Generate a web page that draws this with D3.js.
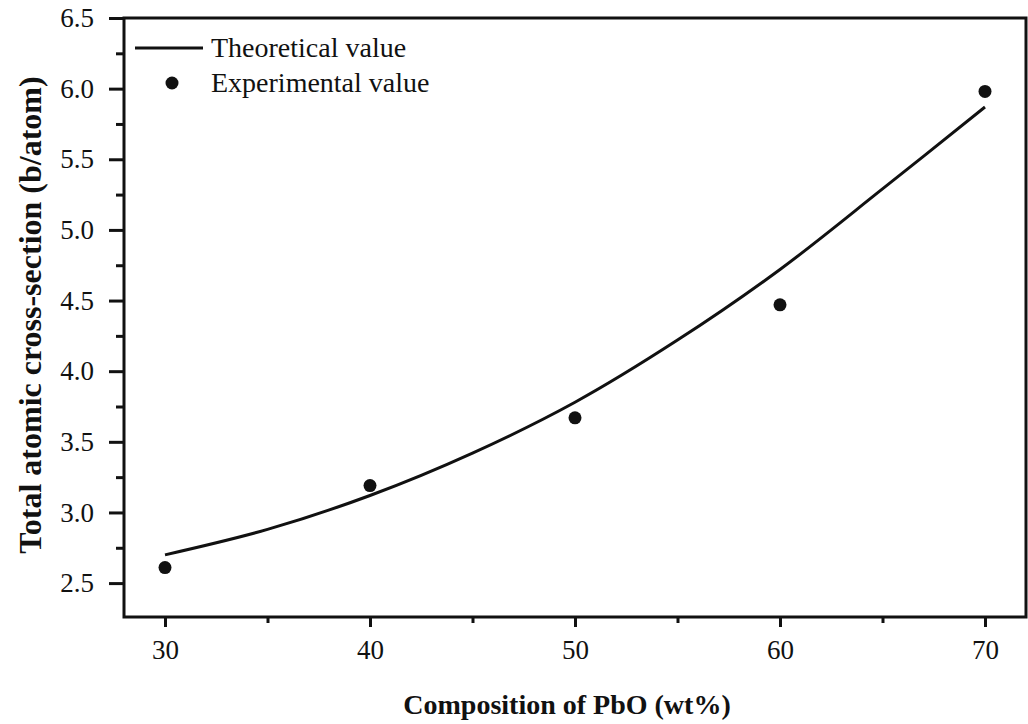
<!DOCTYPE html>
<html>
<head>
  <meta charset="utf-8">
  <script src="https://cdn.jsdelivr.net/npm/d3@7"></script>
  <style>
    body { margin: 0; background: #fff; }
    text { font-family: "Liberation Serif", "Times New Roman", serif; fill: #111; }
  </style>
</head>
<body>
<script>
// experimental points
var expX = [30, 40, 50, 60, 70];
var expY = [2.61, 3.19, 3.67, 4.47, 5.98];
// theoretical curve
var theoX = [30, 35, 40, 45, 50, 55, 60, 65, 70];
var theoY = [2.70, 2.88, 3.12, 3.42, 3.78, 4.22, 4.72, 5.29, 5.87];
var xTicks = [30, 40, 50, 60, 70];
var yTicks = [2.5, 3.0, 3.5, 4.0, 4.5, 5.0, 5.5, 6.0, 6.5];

var W = 1028, H = 724;
var pLeft = 124, pRight = 1026, pTop = 18, pBottom = 617;

var svg = d3.select("body").append("svg")
  .attr("width", W).attr("height", H);

var x = d3.scaleLinear().domain([28, 72]).range([pLeft, pRight]);
var y = d3.scaleLinear().domain([2.26, 6.5]).range([pBottom, pTop]);

// frame
svg.append("rect")
  .attr("x", pLeft).attr("y", pTop)
  .attr("width", pRight - pLeft).attr("height", pBottom - pTop)
  .attr("fill", "none").attr("stroke", "#111").attr("stroke-width", 3);

// x axis
var xAxis = d3.axisBottom(x).tickValues(xTicks).tickSize(10).tickPadding(13)
  .tickFormat(d3.format("d"));
var gx = svg.append("g").attr("transform", "translate(0," + pBottom + ")").call(xAxis);
gx.select(".domain").remove();
gx.selectAll(".tick line").attr("stroke", "#111").attr("stroke-width", 3);
gx.selectAll(".tick text").style("font-size", "27px").attr("fill", "#111");

var gxm = svg.append("g").attr("transform", "translate(0," + pBottom + ")")
  .call(d3.axisBottom(x).tickValues([35, 45, 55, 65]).tickSize(6).tickFormat(""));
gxm.select(".domain").remove();
gxm.selectAll(".tick line").attr("stroke", "#111").attr("stroke-width", 3);

// y axis
var yAxis = d3.axisLeft(y).tickValues(yTicks).tickSize(15).tickPadding(15)
  .tickFormat(d3.format(".1f"));
var gy = svg.append("g").attr("transform", "translate(" + pLeft + ",0)").call(yAxis);
gy.select(".domain").remove();
gy.selectAll(".tick line").attr("stroke", "#111").attr("stroke-width", 3);
gy.selectAll(".tick text").style("font-size", "27px").attr("fill", "#111");

var gym = svg.append("g").attr("transform", "translate(" + pLeft + ",0)")
  .call(d3.axisLeft(y).tickValues([2.75, 3.25, 3.75, 4.25, 4.75, 5.25, 5.75, 6.25])
    .tickSize(8).tickFormat(""));
gym.select(".domain").remove();
gym.selectAll(".tick line").attr("stroke", "#111").attr("stroke-width", 3);

// theoretical curve
var line = d3.line()
  .x(function(d, i) { return x(theoX[i]); })
  .y(function(d) { return y(d); })
  .curve(d3.curveCatmullRom);
svg.append("path")
  .attr("d", line(theoY))
  .attr("fill", "none").attr("stroke", "#111").attr("stroke-width", 3);

// experimental dots
svg.selectAll("circle.exp")
  .data(expY)
  .enter().append("circle")
  .attr("class", "exp")
  .attr("cx", function(d, i) { return x(expX[i]); })
  .attr("cy", function(d) { return y(d); })
  .attr("r", 6.5)
  .attr("fill", "#111");

// legend
svg.append("line")
  .attr("x1", 135).attr("x2", 203).attr("y1", 48).attr("y2", 48)
  .attr("stroke", "#111").attr("stroke-width", 3);
svg.append("text").attr("x", 211).attr("y", 57)
  .style("font-size", "28px").text("Theoretical value");
svg.append("circle").attr("cx", 172).attr("cy", 83).attr("r", 6.5).attr("fill", "#111");
svg.append("text").attr("x", 211).attr("y", 92)
  .style("font-size", "28px").text("Experimental value");

// axis titles
svg.append("text")
  .attr("x", (pLeft + pRight) / 2 - 8).attr("y", 714)
  .attr("text-anchor", "middle")
  .style("font-size", "28px").style("font-weight", "bold")
  .text("Composition of PbO (wt%)");

svg.append("text")
  .attr("transform", "translate(41,315) rotate(-90)")
  .attr("text-anchor", "middle")
  .style("font-size", "32px").style("font-weight", "bold")
  .text("Total atomic cross-section (b/atom)");
</script>
</body>
</html>
